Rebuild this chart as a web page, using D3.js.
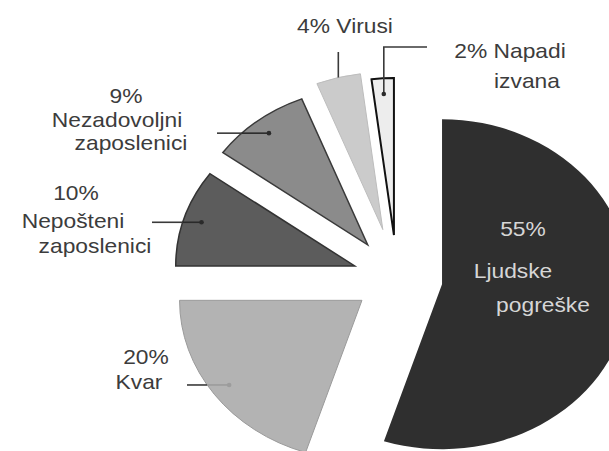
<!DOCTYPE html>
<html>
<head>
<meta charset="utf-8">
<script src="https://cdn.jsdelivr.net/npm/d3@7"></script>
<style>
  body { margin: 0; background: #fff; }
  svg { display: block; }
</style>
</head>
<body>
<div id="chart"></div>
<script>
// data
const categories = ["Ljudske pogreške", "Kvar", "Nepošteni zaposlenici", "Nezadovoljni zaposlenici", "Virusi", "Napadi izvana"];
const values = [55, 20, 10, 9, 4, 2];
const labelLines = [
  ["55%", "Ljudske", "pogreške"],
  ["20%", "Kvar"],
  ["10%", "Nepošteni", "zaposlenici"],
  ["9%", "Nezadovoljni", "zaposlenici"],
  ["4% Virusi"],
  ["2% Napadi", "izvana"]
];

// styles
const fills   = ["#2f2f2f", "#b3b3b3", "#5c5c5c", "#8b8b8b", "#cbcbcb", "#ededed"];
const strokes = ["#2f2f2f", "#9a9a9a", "#333", "#3a3a3a", "#bdbdbd", "#111"];
const strokeW = [0, 1, 1.5, 1.5, 1, 2];

// layout (the picture is stretched sideways, so draw in a squeezed frame)
const W = 609, H = 451;
const SX = 1.14;
const CX = 397, CY = 278;
const explode  = [40, 38, 39, 42, 50, 43];
const radiusOf = [165, 160, 157, 157, 157, 157];

// label baselines, one [x, y] per line (screen coords, centre of line)
const labelPos = [
  [[523, 236], [513, 278], [543, 312]],
  [[146, 364], [139, 389]],
  [[76, 200], [73, 228], [95, 253]],
  [[126, 103], [117, 127], [131, 150]],
  [[345, 33]],
  [[510, 58], [527, 88]]
];
const leaders = [
  null,
  { type: "h", x: 187, inner: "#9c9c9c" },
  { type: "h", x: 152, inner: "#2a2a2a" },
  { type: "h", x: 217, inner: "#2a2a2a" },
  { type: "v", y: 52 },
  { type: "elbow", y: 47, x: 427 }
];

const svg = d3.select("#chart")
  .append("svg")
  .attr("width", W)
  .attr("height", H)
  .style("font-family", "'Liberation Sans', Arial, sans-serif");

const pie = d3.pie().sort(null).value(d => d);
const arcs = pie(values);
const mid = d => (d.startAngle + d.endAngle) / 2;
const offset = (d, i) => [explode[i] * Math.sin(mid(d)), -explode[i] * Math.cos(mid(d))];
const toScreen = (i, d, p) => {
  const o = offset(d, i);
  return [CX + SX * (o[0] + p[0]), CY + o[1] + p[1]];
};

// slices
const pieG = svg.append("g")
  .attr("transform", `translate(${CX},${CY}) scale(${SX},1)`);

pieG.selectAll("path.slice")
  .data(arcs)
  .join("path")
  .attr("class", "slice")
  .attr("transform", (d, i) => `translate(${offset(d, i)[0]},${offset(d, i)[1]})`)
  .attr("d", (d, i) => d3.arc().innerRadius(0).outerRadius(radiusOf[i])(d))
  .attr("fill", (d, i) => fills[i])
  .attr("stroke", (d, i) => strokes[i])
  .attr("stroke-width", (d, i) => strokeW[i])
  .attr("stroke-linejoin", "miter")
  .attr("vector-effect", "non-scaling-stroke");

// leader lines
const lg = svg.append("g").attr("stroke-width", 1.6).attr("fill", "none");
arcs.forEach((d, i) => {
  const L = leaders[i];
  if (!L) return;
  const r = radiusOf[i];
  const dot = toScreen(i, d, d3.arc().innerRadius(r * 0.9).outerRadius(r * 0.9).centroid(d));
  if (L.type === "h") {
    const o = toScreen(i, d, [0, 0]);
    const dy = dot[1] - o[1];
    const edgeX = o[0] - SX * Math.sqrt(r * r - dy * dy);
    lg.append("line").attr("x1", L.x).attr("x2", edgeX).attr("y1", dot[1]).attr("y2", dot[1]).attr("stroke", "#3a3a3a");
    lg.append("line").attr("x1", edgeX).attr("x2", dot[0]).attr("y1", dot[1]).attr("y2", dot[1]).attr("stroke", L.inner);
    lg.append("circle").attr("cx", dot[0]).attr("cy", dot[1]).attr("r", 2.3).attr("fill", L.inner).attr("stroke", "none");
  } else if (L.type === "v") {
    const top = toScreen(i, d, d3.arc().innerRadius(r).outerRadius(r).centroid(d));
    lg.append("line").attr("x1", top[0]).attr("x2", top[0]).attr("y1", top[1]).attr("y2", L.y).attr("stroke", "#3a3a3a");
  } else {
    lg.append("path")
      .attr("d", `M${dot[0]},${dot[1]}V${L.y}H${L.x}`)
      .attr("stroke", "#3a3a3a");
    lg.append("circle").attr("cx", dot[0]).attr("cy", dot[1]).attr("r", 2.3).attr("fill", "#2a2a2a").attr("stroke", "none");
  }
});

// labels
const tg = svg.append("g").attr("font-size", 20).attr("text-anchor", "middle");
labelLines.forEach((lines, i) => {
  lines.forEach((t, j) => {
    const p = labelPos[i][j];
    tg.append("text")
      .attr("transform", `translate(${p[0]},${p[1]}) scale(${SX},1)`)
      .attr("fill", i === 0 ? "#d6d6d6" : "#3c3c3c")
      .text(t);
  });
});
</script>
</body>
</html>
